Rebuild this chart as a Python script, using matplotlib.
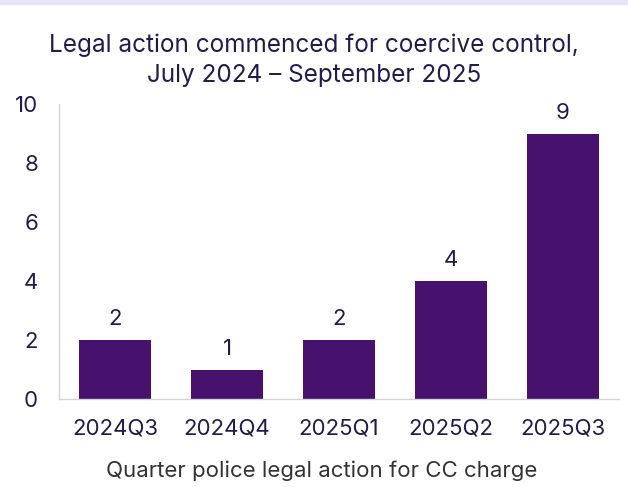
import matplotlib
matplotlib.use("Agg")
import matplotlib.pyplot as plt
from matplotlib.patches import Rectangle

quarters = ["2024Q3", "2024Q4", "2025Q1", "2025Q2", "2025Q3"]
counts = [2, 1, 2, 4, 9]
y_ticks = [0, 2, 4, 6, 8, 10]
title_lines = ["Legal action commenced for coercive control,", "July 2024 \u2013 September 2025"]

plt.rcParams["font.family"] = ["Inter", "DejaVu Sans"]

bar_color = "#46126e"
text_color = "#221c4d"
spine_color = "#d4d4d8"

fig = plt.figure(figsize=(6.28, 4.87), dpi=100)
fig.patches.append(Rectangle((0, 1 - 4 / 487), 1, 4 / 487, transform=fig.transFigure,
                             color="#e6e4f7", zorder=0))

ax = fig.add_axes([59 / 628, 1 - 399 / 487, 560 / 628, 295 / 487])
x = range(len(quarters))
ax.bar(x, counts, width=0.634, color=bar_color)
for xi, v in zip(x, counts):
    ax.text(xi, v + 0.5, str(v), ha="center", va="baseline", fontsize=16, color=text_color)

ax.set_xlim(-0.5, len(quarters) - 0.5)
ax.set_ylim(0, 10)
ax.set_yticks(y_ticks)
ax.set_xticks(list(x))
ax.set_xticklabels(quarters)
ax.tick_params(axis="both", length=0, labelsize=16, labelcolor=text_color)
ax.tick_params(axis="y", pad=15)
ax.tick_params(axis="x", pad=14)
for s in ["top", "right"]:
    ax.spines[s].set_visible(False)
for s in ["left", "bottom"]:
    ax.spines[s].set_color(spine_color)
    ax.spines[s].set_linewidth(1.0)

ax.set_xlabel("Quarter police legal action for CC charge", fontsize=16, color="#333333", labelpad=16)
ax.xaxis.label.set_x((322 - 59) / 560)

# two-line centred title, each line placed on its own baseline
for line, base in zip(title_lines, [52, 82]):
    fig.text(0.5, 1 - base / 487, line, ha="center", va="baseline", fontsize=17.5, color=text_color)

fig.savefig("out.png", dpi=100)
